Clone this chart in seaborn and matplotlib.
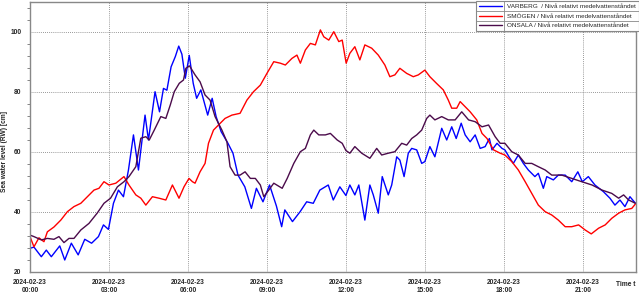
import matplotlib
matplotlib.use("Agg")
import matplotlib.pyplot as plt
from matplotlib.ticker import MultipleLocator
from matplotlib.lines import Line2D
import seaborn as sns
import pandas as pd

# ---- data (hours since 2024-02-23 00:00, water level in cm) ----
varberg_t = [0.0, 0.15, 0.43, 0.62, 0.81, 1.13, 1.32, 1.57, 1.83, 2.08, 2.34, 2.6, 2.79, 2.98,
             3.17, 3.36, 3.55, 3.74, 3.93, 4.12, 4.37, 4.5, 4.75, 4.92, 5.07, 5.2, 5.36, 5.52,
             5.65, 5.77, 5.9, 6.05, 6.2, 6.33, 6.49, 6.75, 6.92, 7.07, 7.26, 7.52, 7.71, 7.9,
             8.16, 8.41, 8.6, 8.85, 9.1, 9.36, 9.56, 9.68, 9.97, 10.26, 10.51, 10.76, 11.01,
             11.33, 11.52, 11.77, 12.0, 12.15, 12.34, 12.49, 12.72, 12.91, 13.04, 13.23, 13.38,
             13.61, 13.74, 13.93, 14.05, 14.21, 14.37, 14.5, 14.69, 14.88, 15.0, 15.19, 15.38,
             15.64, 15.83, 16.02, 16.19, 16.38, 16.53, 16.72, 16.91, 17.1, 17.29, 17.45, 17.55,
             17.74, 17.93, 18.04, 18.23, 18.36, 18.55, 18.74, 18.93, 19.18, 19.31, 19.5, 19.63,
             19.88, 20.07, 20.33, 20.58, 20.81, 20.98, 21.21, 21.46, 21.78, 22.03, 22.22, 22.41,
             22.6, 22.79, 23.0]
varberg_v = [27.9, 28.3, 25.1, 27.3, 25.1, 28.7, 24.0, 29.6, 25.7, 30.9, 29.6, 31.8, 35.7, 34.2,
             42.9, 47.3, 45.1, 54.0, 65.7, 54.0, 72.3, 64.0, 80.1, 73.4, 81.2, 80.6, 88.4, 91.8,
             95.3, 92.6, 84.6, 92.2, 82.9, 77.9, 80.7, 72.3, 77.9, 71.8, 66.8, 62.9, 59.6, 52.3,
             48.4, 41.2, 47.9, 43.4, 49.0, 42.0, 35.1, 40.7, 36.8, 40.1, 43.4, 42.9, 47.3,
             49.0, 44.0, 48.4, 45.5, 49.0, 45.7, 49.0, 37.3, 49.0, 45.7, 39.6, 51.8,
             45.7, 49.0, 58.4, 57.3, 51.8, 59.6, 61.2, 60.7, 56.2, 56.8, 61.8, 58.4,
             67.9, 64.0, 68.4, 64.5, 69.6, 65.7, 63.4, 65.7, 61.2, 61.8, 64.5, 60.7,
             62.9, 61.2, 60.7, 57.9, 56.2, 59.0, 56.2, 54.0, 51.8, 52.9, 47.9, 51.8,
             50.7, 52.3, 52.3, 50.1, 53.4, 50.1, 51.8, 49.0, 46.8, 44.6, 42.3, 44.0,
             41.8, 45.1, 42.9]

smogen_t = [0.0, 0.15, 0.34, 0.53, 0.66, 0.91, 1.17, 1.42, 1.67, 1.93, 2.18, 2.43, 2.62, 2.81,
            3.0, 3.26, 3.57, 3.76, 4.02, 4.21, 4.4, 4.65, 4.9, 5.16, 5.41, 5.66, 5.85, 6.04,
            6.17, 6.27, 6.46, 6.65, 6.78, 6.97, 7.16, 7.41, 7.67, 7.98, 8.24, 8.49, 8.75, 9.0,
            9.26, 9.51, 9.7, 9.95, 10.14, 10.27, 10.46, 10.65, 10.84, 11.03, 11.16, 11.35,
            11.54, 11.73, 11.86, 12.01, 12.15, 12.34, 12.53, 12.72, 12.98, 13.23, 13.48,
            13.67, 13.86, 14.05, 14.31, 14.56, 14.75, 15.0, 15.19, 15.44, 15.7, 15.89, 16.02,
            16.21, 16.34, 16.53, 16.72, 16.97, 17.17, 17.36, 17.61, 17.86, 18.04, 18.3, 18.55,
            18.81, 19.06, 19.31, 19.57, 19.82, 20.07, 20.33, 20.58, 20.84, 21.09, 21.32, 21.6,
            21.85, 22.1, 22.36, 22.6, 22.86, 23.02]
smogen_v = [31.8, 28.4, 31.4, 30.1, 33.4, 35.0, 37.3, 40.1, 41.8, 42.9, 45.1, 47.3, 47.9, 50.1,
            49.0, 49.6, 51.8, 49.0, 45.7, 44.6, 42.3, 45.1, 44.6, 44.0, 49.0, 44.6, 48.4, 51.2,
            50.1, 49.6, 53.4, 56.2, 62.9, 67.3, 69.0, 71.2, 72.3, 72.9, 77.3, 80.1, 82.3, 86.2,
            90.1, 89.6, 89.0, 91.2, 92.3, 89.6, 94.0, 96.2, 95.7, 100.7, 98.4, 97.3,
            100.1, 96.8, 97.3, 89.6, 92.9, 95.1, 90.7, 95.7, 94.6, 92.3, 89.0,
            85.1, 85.7, 87.9, 86.2, 85.1, 85.7, 87.3, 85.1, 82.9, 80.7, 77.3, 74.6,
            74.6, 76.8, 75.1, 73.4, 70.7, 66.2, 64.5, 60.7, 59.6, 59.0, 56.8, 54.0,
            50.1, 46.2, 42.3, 40.1, 39.0, 37.3, 35.1, 35.1, 35.7, 34.0, 32.7, 34.6,
            35.7, 37.9, 39.6, 40.7, 41.2, 42.9]

onsala_t = [0.0, 0.15, 0.43, 0.66, 0.91, 1.1, 1.29, 1.48, 1.67, 1.93, 2.24, 2.55, 2.81, 3.06,
            3.32, 3.57, 3.76, 4.02, 4.21, 4.4, 4.53, 4.72, 4.97, 5.16, 5.33, 5.48, 5.67, 5.83,
            5.92, 6.06, 6.27, 6.46, 6.65, 6.84, 7.03, 7.29, 7.48, 7.6, 7.79, 7.98, 8.17, 8.37,
            8.56, 8.75, 8.88, 9.07, 9.26, 9.58, 9.77, 10.02, 10.27, 10.46, 10.65, 10.78, 10.97,
            11.22, 11.41, 11.67, 11.86, 12.0, 12.15, 12.34, 12.6, 12.91, 13.17, 13.36, 13.61,
            13.86, 14.12, 14.31, 14.5, 14.69, 14.88, 15.07, 15.19, 15.38, 15.64, 15.89, 16.15,
            16.4, 16.66, 16.91, 17.17, 17.42, 17.67, 17.86, 18.04, 18.3, 18.55, 18.81, 19.06,
            19.31, 19.57, 19.82, 20.2, 20.58, 20.96, 21.35, 21.73, 22.1, 22.36, 22.55, 22.74,
            23.0]
onsala_v = [32.3, 31.8, 30.7, 31.2, 30.9, 31.8, 29.8, 31.2, 31.2, 34.0, 36.2, 39.6, 42.9, 44.6,
            48.4, 50.1, 51.8, 55.1, 64.6, 65.1, 64.0, 67.3, 71.8, 71.2, 75.7, 80.1, 82.9, 84.0,
            87.9, 88.7, 85.7, 83.4, 79.0, 77.3, 71.8, 67.3, 63.4, 55.1, 52.3, 52.3, 53.4, 51.2,
            51.2, 49.0, 45.1, 47.3, 49.6, 47.9, 51.2, 56.2, 60.1, 61.2, 65.7, 67.3, 65.7,
            65.7, 66.2, 64.0, 62.9, 60.5, 59.6, 61.8, 59.6, 57.9, 61.2, 59.0, 59.6,
            60.1, 62.9, 62.3, 64.5, 65.7, 67.3, 71.2, 72.3, 70.7, 71.8, 70.7, 70.7,
            73.4, 70.7, 70.1, 68.4, 69.0, 65.1, 62.9, 62.9, 60.1, 59.0, 56.2, 56.2,
            55.1, 54.0, 52.3, 52.3, 51.2, 50.1, 49.0, 47.3, 46.2, 44.6, 45.7, 44.0,
            42.9]

series_names = ["VARBERG  / Nivå relativt medelvattenståndet",
                "SMÖGEN / Nivå relativt medelvattenståndet",
                "ONSALA / Nivå relativt medelvattenståndet"]
series_colors = ["#0000FF", "#FF0000", "#4B0B4B"]

tick_hours = [0, 3, 6, 9, 12, 15, 18, 21]
tick_labels = ["2024-02-23\n00:00", "2024-02-23\n03:00", "2024-02-23\n06:00",
               "2024-02-23\n09:00", "2024-02-23\n12:00", "2024-02-23\n15:00",
               "2024-02-23\n18:00", "2024-02-23\n21:00"]
y_ticks = [20, 40, 60, 80, 100]

# ---- build long table ----
frames = []
for name, t, v in zip(series_names, [varberg_t, smogen_t, onsala_t],
                      [varberg_v, smogen_v, onsala_v]):
    frames.append(pd.DataFrame({"t": t, "v": v, "station": name}))
df = pd.concat(frames, ignore_index=True)

sns.set_style("white")
plt.rcParams["font.family"] = ["Liberation Sans", "DejaVu Sans"]

W, H = 639, 300
fig = plt.figure(figsize=(W / 100, H / 100), dpi=100)
ax = fig.add_axes([30 / W, 1 - 272 / H, 606 / W, 270 / H])

sns.lineplot(data=df, x="t", y="v", hue="station", hue_order=series_names,
             palette=dict(zip(series_names, series_colors)), estimator=None,
             sort=False, linewidth=1.0, ax=ax, legend=True)

ax.set_xlim(0, 23.02)
ax.set_ylim(20, 110)
ax.set_xticks(tick_hours)
ax.set_xticklabels(tick_labels, fontsize=4.8, fontweight="bold")
ax.set_yticks(y_ticks)
ax.set_yticklabels([str(y) for y in y_ticks], fontsize=4.8, fontweight="bold")
ax.yaxis.set_minor_locator(MultipleLocator(4))
ax.tick_params(axis="y", which="major", length=4, width=0.6, color="#555555", pad=2)
ax.tick_params(axis="y", which="minor", length=2, width=0.5, color="#555555", left=True)
ax.tick_params(axis="x", which="major", length=3, width=0.6, color="#555555", pad=2)
ax.grid(True, which="major", linestyle=(0, (1, 1.5)), color="#777777", linewidth=0.6)
for s in ax.spines.values():
    s.set_color("#888888")
    s.set_linewidth(1.0)
ax.set_xlabel("")
ax.set_ylabel("Sea water level (RW) [cm]", fontsize=4.8, fontweight="bold")
ax.yaxis.set_label_coords((8 - 30) / 606, (272 - 151) / 270)
fig.text(626 / W, 1 - 285 / H, "Time t", fontsize=4.8, fontweight="bold",
         ha="center", va="center")

leg = ax.legend(loc="upper right", bbox_to_anchor=(1.0, 1.0 - 1 / H),
                bbox_transform=fig.transFigure, fontsize=4.6, frameon=True,
                fancybox=False, borderpad=0.45, labelspacing=0.62, handlelength=3.6,
                handletextpad=0.9, borderaxespad=0)
leg.get_frame().set_edgecolor("#888888")
leg.get_frame().set_linewidth(0.8)
leg.get_frame().set_facecolor("white")
leg.get_frame().set_alpha(1.0)
for line in leg.get_lines():
    line.set_linewidth(1.0)

# cell separators inside the legend box
fig.canvas.draw()
bb = leg.get_frame().get_window_extent().transformed(fig.transFigure.inverted())
hl = leg.get_lines()[0].get_window_extent().transformed(fig.transFigure.inverted())
sep_x = hl.x1 + 2.5 / W
fig.add_artist(Line2D([sep_x, sep_x], [bb.y0, bb.y1], transform=fig.transFigure,
                      color="#888888", linewidth=0.6))
for k in (1, 2):
    yy = bb.y0 + k * (bb.y1 - bb.y0) / 3
    fig.add_artist(Line2D([bb.x0, bb.x1], [yy, yy], transform=fig.transFigure,
                          color="#888888", linewidth=0.6))

fig.savefig("out.png", dpi=100)
